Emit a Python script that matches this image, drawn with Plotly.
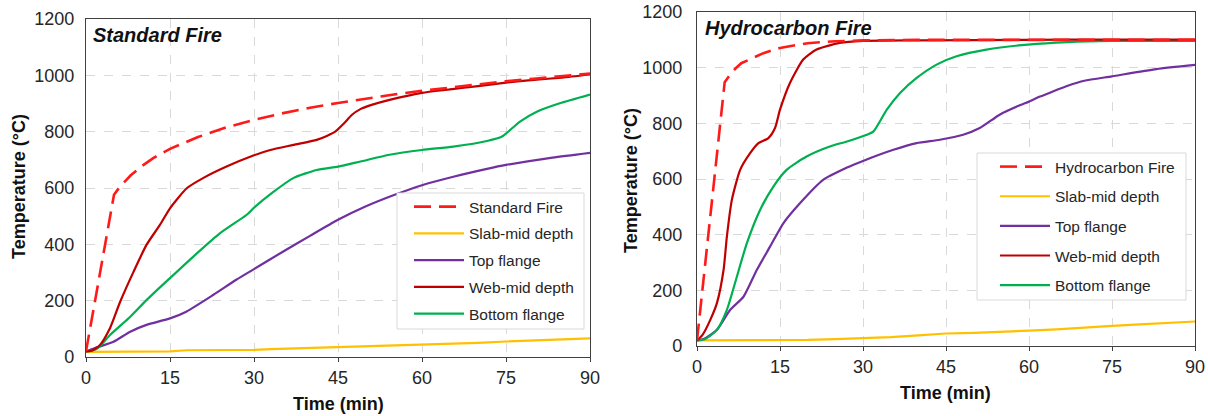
import plotly.graph_objects as go

# ---------------- Standard fire (left panel) ----------------
std_fire_t = [0, 5, 6, 7, 8, 10, 12, 15, 20, 25, 30, 35, 40, 45, 50, 55, 60, 65, 70, 75, 80, 85, 90]
std_fire_T = [20, 576, 603, 626, 645, 678, 706, 739, 781, 815, 842, 865, 885, 902, 918, 932, 945, 957, 968, 979, 988, 997, 1006]

std_slab_t = [0, 10, 15, 18, 25, 30, 33, 40, 45, 50, 55, 60, 65, 70, 75, 80, 85, 90]
std_slab_T = [18, 18, 20, 24, 24, 25, 28, 32, 35, 38, 40, 43, 46, 50, 55, 58, 62, 66]

std_top_t = [0, 1.5, 4.9, 7.9, 10.8, 15, 17.9, 22.7, 26.9, 30, 35, 40, 45, 50, 55, 60, 65.6, 71.6, 75, 83.3, 90]
std_top_T = [20, 31, 54, 90, 114, 137, 161, 220, 275, 312, 372, 430, 487, 535, 575, 610, 640, 668, 682, 708, 725]

std_web_t = [0, 1, 2.5, 4.3, 6.1, 8.5, 10.8, 13.2, 15, 18, 20.9, 25.1, 30, 32.9, 37, 41.2, 43, 44.5, 46, 47.5, 49, 51, 54.2, 60, 65, 70, 75, 80, 85, 90]
std_web_T = [20, 22, 43, 103, 196, 303, 398, 469, 528, 599, 635, 676, 716, 735, 753, 771, 785, 800, 828, 860, 880, 895, 913, 938, 950, 962, 974, 984, 992, 1003]

std_bot_t = [0, 1, 2, 4.3, 7.9, 10.8, 15, 19.8, 23.9, 28.7, 30, 33.4, 37, 41.2, 45, 49, 54.2, 60, 65.6, 71.6, 74.3, 77.5, 80.5, 84.6, 90]
std_bot_T = [20, 22, 30, 78, 143, 202, 280, 368, 439, 505, 530, 585, 635, 664, 676, 694, 718, 735, 747, 767, 783, 836, 871, 901, 932]

# ---------------- Hydrocarbon fire (right panel) ----------------
hc_fire_t = [0, 5, 6, 7, 8, 10, 12, 15, 20, 25, 30, 40, 50, 60, 75, 90]
hc_fire_T = [20, 948, 975, 998, 1016, 1034, 1052, 1071, 1088, 1095, 1098, 1100, 1100, 1100, 1100, 1100]

hc_slab_t = [0, 15, 20, 25, 30, 35, 40, 45, 50, 55, 60, 65, 70, 75, 80, 85, 90]
hc_slab_T = [20, 20, 22, 25, 28, 32, 38, 45, 47, 50, 55, 60, 65, 72, 78, 83, 88]

hc_top_t = [0, 1.5, 3.6, 6, 8.4, 10.8, 13.2, 15.6, 18.6, 22.8, 27, 30, 35.5, 39.7, 43.9, 48.1, 51.1, 54.7, 58, 60, 62, 64, 67, 70, 75, 83, 90]
hc_top_T = [20, 28, 58, 130, 177, 273, 357, 441, 513, 597, 640, 665, 705, 729, 741, 759, 783, 831, 862, 878, 896, 912, 935, 953, 969, 995, 1010]

hc_web_t = [0, 1, 2.4, 3.6, 4.8, 5.4, 6.3, 7.8, 9.6, 11.1, 12.9, 14.1, 15, 16.8, 19.2, 21.6, 25.8, 30, 40, 60, 75, 90]
hc_web_T = [20, 40, 94, 154, 273, 393, 525, 633, 693, 729, 747, 783, 849, 945, 1029, 1065, 1089, 1096, 1098, 1100, 1101, 1101]

hc_bot_t = [0, 1.5, 3.6, 5.4, 7.2, 9, 11.4, 13.8, 16.2, 19.8, 24, 27.1, 30.7, 31.9, 34.3, 36.7, 39.7, 43.3, 46.9, 52.3, 59.8, 67, 75, 90]
hc_bot_T = [20, 25, 58, 130, 249, 369, 489, 573, 633, 681, 717, 735, 759, 771, 849, 909, 963, 1011, 1041, 1065, 1083, 1092, 1096, 1096]

x_ticks = [0, 15, 30, 45, 60, 75, 90]
y_ticks = [0, 200, 400, 600, 800, 1000, 1200]

C_FIRE = "#FF1A1A"
C_SLAB = "#FFC000"
C_TOP = "#7030A0"
C_WEB = "#C00000"
C_BOT = "#00B050"
FONT = "Liberation Sans"
TXT = "#262626"

W, H = 1208, 416

def px(x):
    return x / W

def py(y):
    return 1 - y / H

fig = go.Figure()

def add(t, T, name, color, xa, ya, leg, rank, dash=None, width=2.2, shape="spline"):
    line = dict(color=color, width=width, shape=shape)
    if shape == "spline":
        line["smoothing"] = 0.6
    if dash:
        line["dash"] = dash
    fig.add_trace(go.Scatter(x=t, y=T, mode="lines", name=name, line=line,
                             xaxis=xa, yaxis=ya, legend=leg, legendrank=rank,
                             legendgroup=leg + name))

for (xa, ya, leg, fname, data) in [
    ("x", "y", "legend", "Standard Fire",
     [std_fire_t, std_fire_T, std_slab_t, std_slab_T, std_top_t, std_top_T,
      std_web_t, std_web_T, std_bot_t, std_bot_T]),
    ("x2", "y2", "legend2", "Hydrocarbon Fire",
     [hc_fire_t, hc_fire_T, hc_slab_t, hc_slab_T, hc_top_t, hc_top_T,
      hc_web_t, hc_web_T, hc_bot_t, hc_bot_T]),
]:
    ft, fT, st, sT, tt, tT, wt, wT, bt, bT = data
    add(st, sT, "Slab-mid depth", C_SLAB, xa, ya, leg, 2, shape="linear")
    add(tt, tT, "Top flange", C_TOP, xa, ya, leg, 3)
    add(bt, bT, "Bottom flange", C_BOT, xa, ya, leg, 5)
    add(wt, wT, "Web-mid depth", C_WEB, xa, ya, leg, 4)
    add(ft, fT, fname, C_FIRE, xa, ya, leg, 1, dash="17px,8px", width=2.6, shape="linear")

def xax(dom):
    return dict(domain=dom, range=[0, 90], tickvals=x_ticks, showgrid=True,
                gridcolor="#D9D9D9", griddash="dash", gridwidth=1,
                showline=True, linecolor="#404040", linewidth=1.3, mirror=True,
                ticks="outside", ticklen=4, tickcolor="#404040",
                tickfont=dict(family=FONT, size=18, color=TXT), zeroline=False,
                ticklabelstandoff=0, automargin=False, ticklabeloverflow="allow")

def yax(dom, anchor, standoff):
    return dict(domain=dom, range=[0, 1200], tickvals=y_ticks, showgrid=True,
                gridcolor="#D9D9D9", griddash="dash", gridwidth=1,
                showline=True, linecolor="#404040", linewidth=1.3, mirror=True,
                ticks="", anchor=anchor,
                tickfont=dict(family=FONT, size=18, color=TXT), zeroline=False,
                ticklabelstandoff=standoff, automargin=False,
                ticklabeloverflow="allow")

lx = [px(86), px(590)]
ly = [py(357), py(19)]
rx = [px(697), px(1195)]
ry = [py(346), py(12)]

legend_common = dict(bgcolor="rgba(0,0,0,0)", borderwidth=0,
                     font=dict(family=FONT, size=15.5, color=TXT),
                     xanchor="left", yanchor="top", itemwidth=50)

fig.update_layout(
    width=W, height=H, margin=dict(l=0, r=0, t=0, b=0, autoexpand=False),
    paper_bgcolor="white", plot_bgcolor="white",
    xaxis=dict(xax(lx), anchor="y"),
    yaxis=yax(ly, "x", 7),
    xaxis2=dict(xax(rx), anchor="y2"),
    yaxis2=yax(ry, "x2", 10),
    legend=dict(legend_common, x=px(409), y=py(190), tracegroupgap=3.6),
    legend2=dict(legend_common, x=px(995), y=py(150), tracegroupgap=6.5),
    showlegend=True,
)

# legend frames (white boxes with light grey border)
shapes = [
    dict(type="rect", xref="paper", yref="paper", layer="above",
         x0=px(397), x1=px(584), y0=py(329), y1=py(193),
         fillcolor="white", line=dict(color="#D9D9D9", width=1)),
    dict(type="rect", xref="paper", yref="paper", layer="above",
         x0=px(977), x1=px(1186), y0=py(300), y1=py(153),
         fillcolor="white", line=dict(color="#D9D9D9", width=1)),
]
fig.update_layout(shapes=shapes)

annotations = [
    dict(text="<b><i>Standard Fire</i></b>", xref="paper", yref="paper",
         x=px(91), y=py(35), xanchor="left", yanchor="middle", showarrow=False,
         font=dict(family=FONT, size=20, color="#111111")),
    dict(text="<b><i>Hydrocarbon Fire</i></b>", xref="paper", yref="paper",
         x=px(703), y=py(28), xanchor="left", yanchor="middle", showarrow=False,
         font=dict(family=FONT, size=20, color="#111111")),
    dict(text="<b>Time (min)</b>", xref="paper", yref="paper",
         x=px((86 + 590) / 2), y=py(404), xanchor="center", yanchor="middle",
         showarrow=False, font=dict(family=FONT, size=18, color="#111111")),
    dict(text="<b>Time (min)</b>", xref="paper", yref="paper",
         x=px((697 + 1195) / 2), y=py(393), xanchor="center", yanchor="middle",
         showarrow=False, font=dict(family=FONT, size=18, color="#111111")),
    dict(text="<b>Temperature (°C)</b>", xref="paper", yref="paper",
         x=px(19), y=py(187), xanchor="center", yanchor="middle", textangle=-90,
         showarrow=False, font=dict(family=FONT, size=18, color="#111111")),
    dict(text="<b>Temperature (°C)</b>", xref="paper", yref="paper",
         x=px(631), y=py(181), xanchor="center", yanchor="middle", textangle=-90,
         showarrow=False, font=dict(family=FONT, size=18, color="#111111")),
]
fig.update_layout(annotations=annotations)

# remove the default 8px page margin so the figure fills the window exactly
fig.write_html(
    "out.html",
    config={"displayModeBar": False},
    post_script="document.body.style.margin='0';document.body.style.overflow='hidden';",
)
